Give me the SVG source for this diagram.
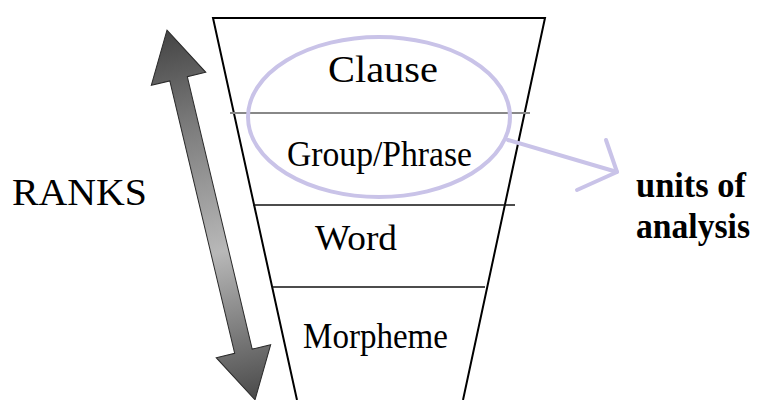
<svg xmlns="http://www.w3.org/2000/svg" width="759" height="400" viewBox="0 0 759 400">
  <defs>
    <linearGradient id="rankGrad" x1="0" y1="-190" x2="0" y2="190" gradientUnits="userSpaceOnUse">
      <stop offset="0" stop-color="#444"/>
      <stop offset="0.25" stop-color="#7a7a7a"/>
      <stop offset="0.6" stop-color="#b8b8b8"/>
      <stop offset="1" stop-color="#4a4a4a"/>
    </linearGradient>
  </defs>
  <style>
    .serif { font-family: "Liberation Serif", "Times New Roman", serif; fill: #000; }
    .edge { stroke: #000; stroke-width: 2; fill: none; }
    .div { stroke: #111; stroke-width: 1.6; }
    .hl { stroke: #c9c3e8; stroke-width: 4; fill: none; stroke-linecap: round; stroke-linejoin: round; }
  </style>
  <rect width="759" height="400" fill="#fff"/>

  <!-- double-headed rank arrow -->
  <g id="rank-arrow" transform="translate(211,215) rotate(-13.4)">
    <polygon points="0,-190 28,-140 9,-140 9,140 28,140 0,190 -28,140 -9,140 -9,-140 -28,-140"
             fill="url(#rankGrad)" stroke="#2a2a2a" stroke-width="1"/>
  </g>
  <g id="ranks-label">
    <text class="serif" x="12" y="205" font-size="38" textLength="135" lengthAdjust="spacingAndGlyphs">RANKS</text>
  </g>

  <!-- funnel of ranks -->
  <g id="funnel">
    <polyline class="edge" points="297,400 213,18 545,18 463,400"/>
    <line x1="230" y1="113" x2="530" y2="113" stroke="#888" stroke-width="1.8"/>
    <line class="div" x1="253" y1="205" x2="515" y2="205"/>
    <line class="div" x1="272" y1="287" x2="485" y2="287"/>
  </g>
  <g id="clause"><text class="serif" x="328" y="82" font-size="37" textLength="110" lengthAdjust="spacingAndGlyphs">Clause</text></g>
  <g id="group-phrase"><text class="serif" x="287" y="166" font-size="36" textLength="185" lengthAdjust="spacingAndGlyphs">Group/Phrase</text></g>
  <g id="word"><text class="serif" x="315" y="250" font-size="35" textLength="82" lengthAdjust="spacingAndGlyphs">Word</text></g>
  <g id="morpheme"><text class="serif" x="303" y="348" font-size="36" textLength="145" lengthAdjust="spacingAndGlyphs">Morpheme</text></g>

  <!-- highlight and pointer -->
  <g id="highlight">
    <ellipse class="hl" cx="379" cy="117" rx="131" ry="80"/>
  </g>
  <g id="connectors">
    <polyline class="hl" points="508,140 617,172"/>
    <polyline class="hl" points="606,140 617,172 577,190"/>
  </g>
  <g id="units-label">
    <text class="serif" x="636" y="197" font-size="35" font-weight="bold" textLength="110" lengthAdjust="spacingAndGlyphs">units of</text>
    <text class="serif" x="636" y="238" font-size="35" font-weight="bold" textLength="114" lengthAdjust="spacingAndGlyphs">analysis</text>
  </g>
</svg>
